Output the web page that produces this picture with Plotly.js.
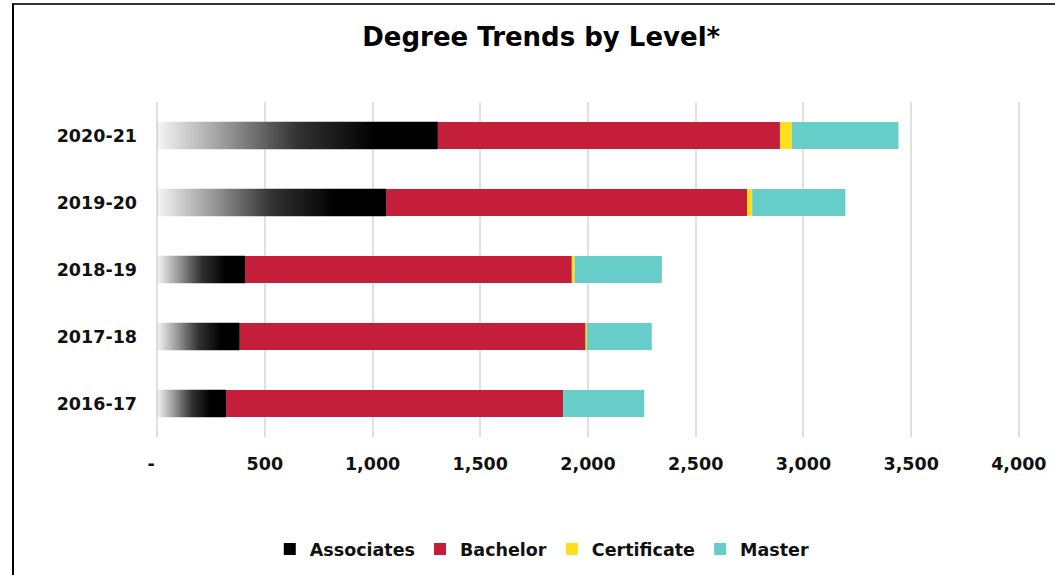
<!DOCTYPE html>
<html>
<head>
<meta charset="utf-8">
<script src="https://cdn.plot.ly/plotly-3.0.1.min.js"></script>
<style>
  html, body { margin: 0; padding: 0; background: #fff; }
  #frame { position: absolute; left: 12px; top: 3px; width: 1100px; height: 600px;
           border-left: 2px solid #000; border-top: 2px solid #333; }
  #chart { position: absolute; left: 0; top: 0; width: 1055px; height: 575px; }
</style>
</head>
<body>
<div id="frame"></div>
<div id="chart"></div>
<script>
// ---- Data ----
const years = ["2016-17", "2017-18", "2018-19", "2019-20", "2020-21"];
const associates = [320, 382, 408, 1063, 1302];
const bachelor = [1564, 1607, 1517, 1676, 1589];
const certificate = [0, 6, 13, 23, 55];
const master = [377, 301, 405, 433, 495];
const xTickVals = [0, 500, 1000, 1500, 2000, 2500, 3000, 3500, 4000];
const xTickText = ["-\u00a0\u00a0", "500", "1,000", "1,500", "2,000", "2,500", "3,000", "3,500", "4,000"];

// ---- Styles ----
const FONT = "DejaVu Sans, sans-serif";
const colors = { associates: "#000000", bachelor: "#c41e3a", certificate: "#fce01f", master: "#66cdc9" };
const barWidth = 0.4;
const yPos = years.map((_, i) => i);

const base2 = associates.map((a, i) => a + bachelor[i]);
const base3 = associates.map((a, i) => a + bachelor[i] + certificate[i]);

const traces = [];

// Associates as a bar (provides legend swatch); gradient overlay drawn on top
traces.push({ type: "bar", orientation: "h", name: "Associates", y: yPos, x: associates, base: 0,
  width: barWidth, marker: { color: colors.associates }, legendgroup: "assoc", hoverinfo: "skip" });
traces.push({ type: "bar", orientation: "h", name: "Bachelor", y: yPos, x: bachelor, base: associates,
  width: barWidth, marker: { color: colors.bachelor }, hoverinfo: "skip" });
traces.push({ type: "bar", orientation: "h", name: "Certificate", y: yPos, x: certificate, base: base2,
  width: barWidth, marker: { color: colors.certificate }, hoverinfo: "skip" });
traces.push({ type: "bar", orientation: "h", name: "Master", y: yPos, x: master, base: base3,
  width: barWidth, marker: { color: colors.master }, hoverinfo: "skip" });

// Gradient fill for each Associates bar (white -> black), drawn from the same values
const pad = 0.006;
associates.forEach((v, i) => {
  const y0 = yPos[i] - barWidth / 2 - pad, y1 = yPos[i] + barWidth / 2 + pad;
  traces.push({
    type: "scatter", mode: "none",
    x: [0, v, v, 0, 0], y: [y0, y0, y1, y1, y0],
    fill: "toself",
    fillgradient: {
      type: "horizontal",
      colorscale: [[0, "rgb(245,245,245)"], [0.25, "rgb(150,150,150)"], [0.5, "rgb(50,50,50)"], [0.78, "rgb(0,0,0)"], [1, "rgb(0,0,0)"]]
    },
    name: "Associates", legendgroup: "assoc",
    showlegend: false, hoverinfo: "skip"
  });
});

const tickFont = { family: FONT, size: 17.5, color: "#111", weight: 700 };

const layout = {
  width: 1055, height: 575,
  paper_bgcolor: "rgba(0,0,0,0)", plot_bgcolor: "rgba(0,0,0,0)",
  margin: { l: 155, r: 34, t: 102, b: 138, autoexpand: false },
  barmode: "overlay",
  title: { text: "Degree Trends by Level*", x: 0.513, xanchor: "center", y: 0.935, yanchor: "middle",
           font: { family: FONT, size: 26, color: "#000", weight: 700 } },
  xaxis: {
    range: [-10, 4010], tickvals: xTickVals, ticktext: xTickText,
    showgrid: true, gridcolor: "#e0e0e0", gridwidth: 2, zeroline: false,
    showline: false, ticks: "", ticklabelstandoff: 14,
    tickfont: tickFont, fixedrange: true
  },
  yaxis: {
    range: [-0.5, 4.5], tickvals: yPos, ticktext: years,
    showgrid: false, zeroline: false, showline: false, ticks: "", ticklabelstandoff: 17,
    tickfont: tickFont, fixedrange: true
  },
  legend: {
    orientation: "h", xref: "container", yref: "container",
    x: 0.514, xanchor: "center", y: 0.045, yanchor: "middle",
    traceorder: "normal", font: tickFont,
    itemwidth: 30
  },
  showlegend: true
};

Plotly.newPlot("chart", traces, layout, { displayModeBar: false, staticPlot: true });
</script>
</body>
</html>
